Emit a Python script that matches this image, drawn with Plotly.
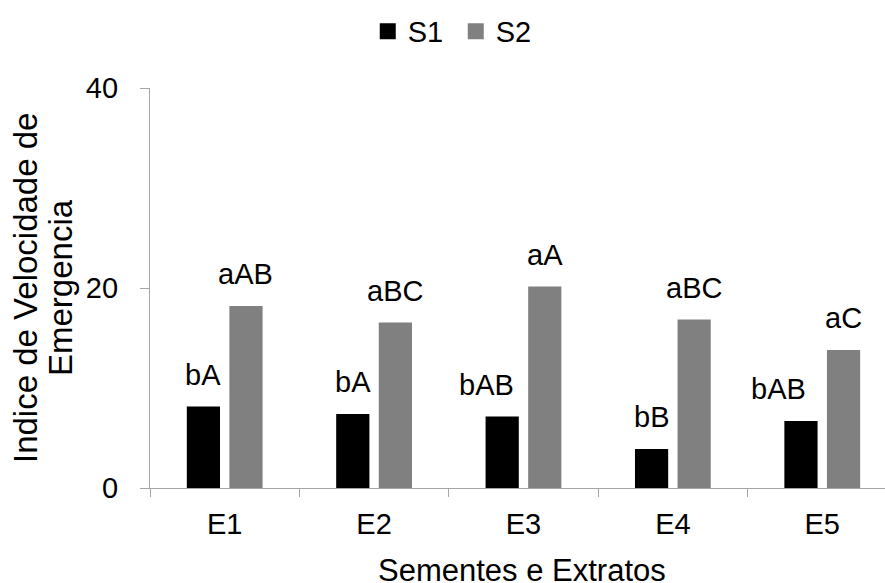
import plotly.graph_objects as go

# Data
categories = ["E1", "E2", "E3", "E4", "E5"]
s1_values = [8.15, 7.4, 7.15, 3.9, 6.7]
s2_values = [18.2, 16.55, 20.15, 16.85, 13.8]
s1_labels = ["bA", "bA", "bAB", "bB", "bAB"]
s2_labels = ["aAB", "aBC", "aA", "aBC", "aC"]
y_ticks = [0, 20, 40]
x_title = "Sementes e Extratos"
y_title_lines = ["Indice de Velocidade de", "Emergencia"]

FONT = "Liberation Sans, Arial, sans-serif"
FS = 29          # ticks, legend, value letters
FS_XTITLE = 31
FS_YTITLE = 33
AXIS_GREY = "#a6a6a6"
S1_COLOR = "#000000"
S2_COLOR = "#808080"
BARGAP = 0.43
BARGROUPGAP = 0.22

# small horizontal nudges (px) for the wider S1 labels
s1_nudge = [0, 0, -16, 0, -22]

fig = go.Figure()
fig.add_trace(go.Bar(x=categories, y=s1_values, marker_color=S1_COLOR,
                     marker_line_width=0, showlegend=False, name="S1"))
fig.add_trace(go.Bar(x=categories, y=s2_values, marker_color=S2_COLOR,
                     marker_line_width=0, showlegend=False, name="S2"))

# legend entries with square swatches
for name, color in (("S1", S1_COLOR), ("S2", S2_COLOR)):
    fig.add_trace(go.Scatter(x=[None], y=[None], mode="markers", name=name,
                             marker=dict(symbol="square", size=16, color=color)))

# value letters above each bar
half = (1 - BARGAP) / 4
annotations = []
for i, cat in enumerate(categories):
    annotations.append(dict(x=i - half, y=s1_values[i], text=s1_labels[i],
                            xref="x", yref="y", showarrow=False,
                            yanchor="bottom", yshift=14, xshift=s1_nudge[i],
                            font=dict(family=FONT, size=FS, color="black")))
    annotations.append(dict(x=i + half, y=s2_values[i], text=s2_labels[i],
                            xref="x", yref="y", showarrow=False,
                            yanchor="bottom", yshift=14,
                            font=dict(family=FONT, size=FS, color="black")))

# axis titles
annotations.append(dict(x=0.506, y=-0.206, xref="paper", yref="paper",
                        text=x_title, showarrow=False,
                        xanchor="center", yanchor="middle",
                        font=dict(family=FONT, size=FS_XTITLE, color="black")))
# y title as two rotated lines with tight line spacing
for line, xpx in zip(y_title_lines, (25, 60)):
    annotations.append(dict(x=(xpx - 150) / 735, y=0.5, xref="paper", yref="paper",
                            text=line, showarrow=False,
                            textangle=-90, xanchor="center", yanchor="middle",
                            font=dict(family=FONT, size=FS_YTITLE, color="black")))

fig.update_layout(
    width=885, height=583,
    margin=dict(l=150, r=0, t=88, b=95),
    paper_bgcolor="white", plot_bgcolor="white",
    barmode="group", bargap=BARGAP, bargroupgap=BARGROUPGAP,
    font=dict(family=FONT, size=FS, color="black"),
    legend=dict(orientation="h", x=0.416, y=0.99, xanchor="center", yanchor="top",
                yref="container", entrywidth=43, font=dict(family=FONT, size=FS)),
    annotations=annotations,
)

fig.update_xaxes(
    type="category", range=[-0.5, 4.42],
    showline=True, linecolor=AXIS_GREY, linewidth=1.3,
    ticks="outside", tickson="boundaries", ticklen=8, tickcolor=AXIS_GREY,
    showgrid=False, zeroline=False, ticklabelstandoff=10,
    tickfont=dict(family=FONT, size=FS, color="black"),
)
fig.update_yaxes(
    range=[0, 40], tickvals=y_ticks,
    showline=True, linecolor=AXIS_GREY, linewidth=1.3,
    ticks="outside", ticklen=9, tickcolor=AXIS_GREY,
    showgrid=False, zeroline=False, ticklabelstandoff=16,
    tickfont=dict(family=FONT, size=FS, color="black"),
)

fig.write_html("out.html")
